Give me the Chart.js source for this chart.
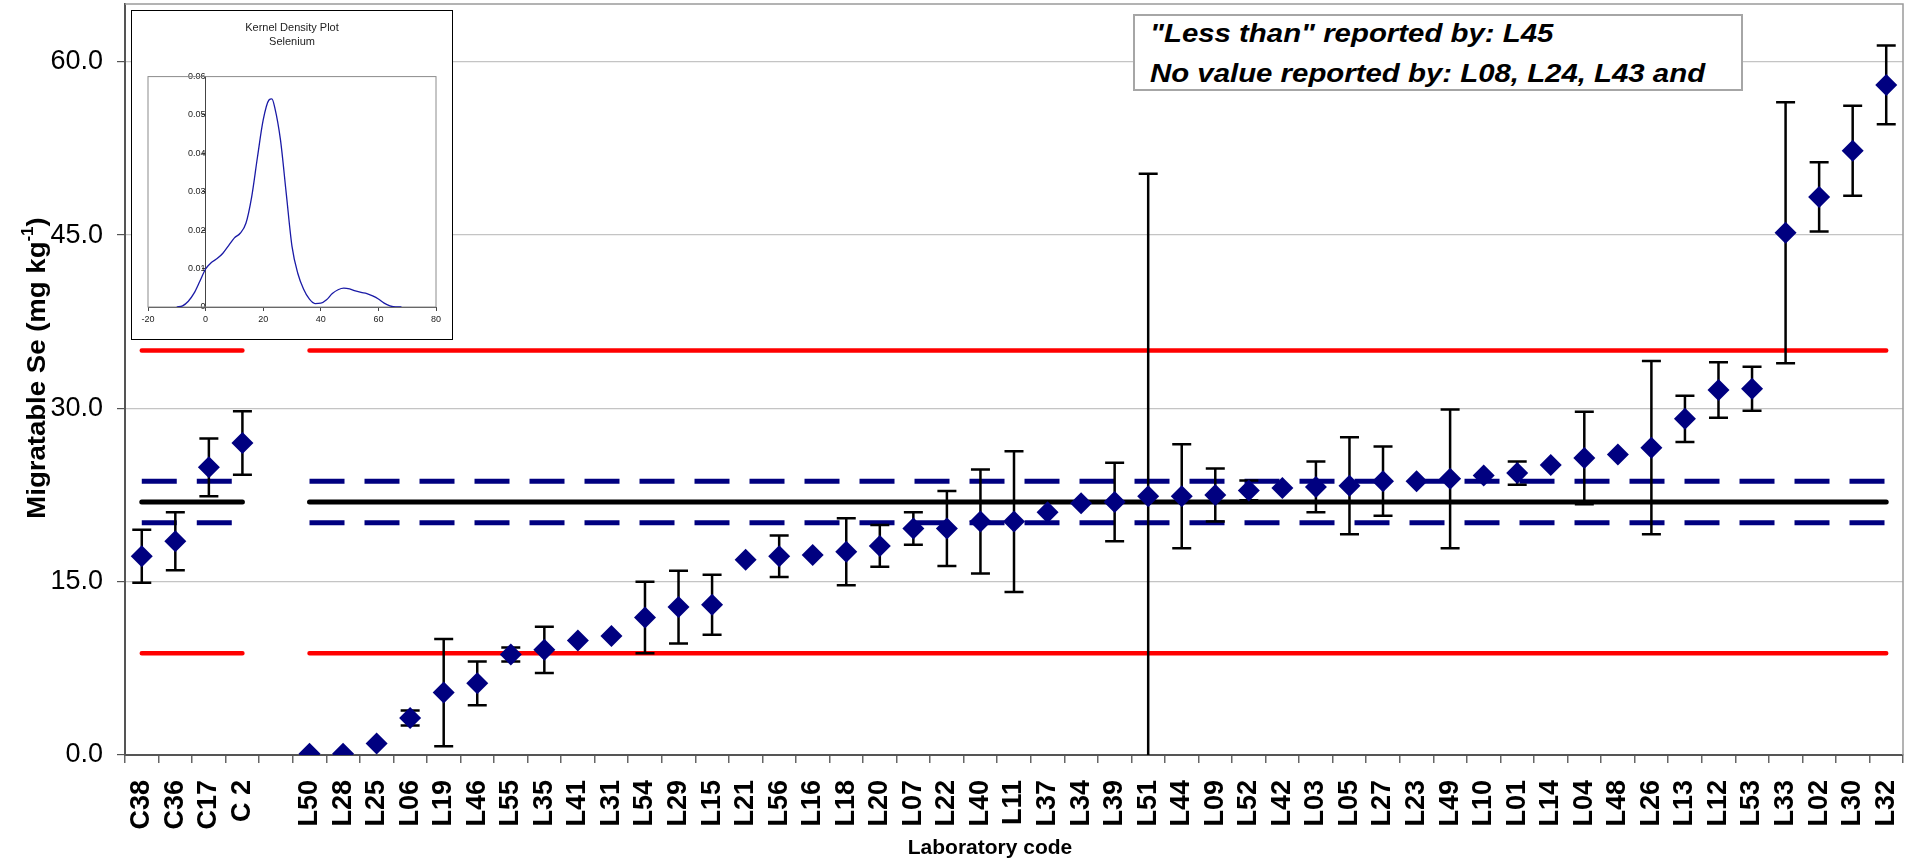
<!DOCTYPE html>
<html>
<head>
<meta charset="utf-8">
<title>Migratable Se by laboratory</title>
<script src="https://cdn.jsdelivr.net/npm/chart.js@4.4.1/dist/chart.umd.min.js"></script>
<style>
  html, body { margin: 0; padding: 0; background: #fff; }
  #wrap { position: relative; width: 1910px; height: 866px; overflow: hidden; }
  #main-holder { position: absolute; left: 0; top: 0; width: 1910px; height: 866px; }
  #kde-box { position: absolute; left: 131px; top: 10px; width: 320px; height: 328px;
             border: 1.5px solid #000; background: #fff; }
  #note { position: absolute; left: 1133px; top: 14px; width: 606px; height: 73px;
          border: 2px solid #a6a6a6; background: #fff; overflow: hidden; }
  #note div { position: absolute; left: 15px; font: italic bold 26px "Liberation Sans", Arial, sans-serif;
              line-height: 40px; white-space: nowrap; transform: scaleX(1.13); transform-origin: left; }
</style>
</head>
<body>
<div id="wrap">
  <div id="main-holder"><canvas id="main"></canvas></div>
  <div id="kde-box"><canvas id="kde"></canvas></div>
  <div id="note">
    <div style="top:-3px">"Less than" reported by: L45</div>
    <div style="top:37px">No value reported by: L08, L24, L43 and</div>
  </div>
</div>
<script>
const FONT = '"Liberation Sans", Arial, sans-serif';

// laboratory codes, '' is the empty slot between the C and L groups
const labCodes = ['C38', 'C36', 'C17', 'C 2', '',
  'L50', 'L28', 'L25', 'L06', 'L19', 'L46', 'L55', 'L35', 'L41', 'L31',
  'L54', 'L29', 'L15', 'L21', 'L56', 'L16', 'L18', 'L20', 'L07', 'L22',
  'L40', 'L11', 'L37', 'L34', 'L39', 'L51', 'L44', 'L09', 'L52', 'L42',
  'L03', 'L05', 'L27', 'L23', 'L49', 'L10', 'L01', 'L14', 'L04', 'L48',
  'L26', 'L13', 'L12', 'L53', 'L33', 'L02', 'L30', 'L32'];

// reported results (mg/kg)
const results = [17.2, 18.5, 24.9, 27.0, null,
  0.1, 0.1, 1.0, 3.2, 5.4, 6.2, 8.7, 9.1, 9.9, 10.3,
  11.9, 12.8, 13.0, 16.9, 17.2, 17.3, 17.6, 18.1, 19.6, 19.6,
  20.2, 20.2, 21.0, 21.8, 21.9, 22.4, 22.4, 22.5, 22.9, 23.1,
  23.2, 23.3, 23.7, 23.7, 23.9, 24.2, 24.4, 25.1, 25.7, 26.0,
  26.6, 29.1, 31.6, 31.7, 45.2, 48.3, 52.3, 58.0];

// expanded uncertainties (0 = none given)
const uncert = [2.3, 2.5, 2.5, 2.75, null,
  0, 0, 0, 0.65, 4.65, 1.9, 0.6, 2.0, 0, 0,
  3.1, 3.15, 2.6, 0, 1.8, 0, 2.9, 1.8, 1.4, 3.25,
  4.5, 6.1, 0, 0, 3.4, 27.9, 4.5, 2.3, 0.85, 0,
  2.2, 4.2, 3.0, 0, 6.0, 0, 1.0, 0, 4.0, 0,
  7.5, 2.0, 2.4, 1.9, 11.3, 3.0, 3.9, 3.4];

const ASSIGNED = 21.9;    // reference value
const U_HIGH = 23.7;      // reference value + U
const U_LOW = 20.1;       // reference value - U
const LIMIT_HIGH = 35.0;  // target range
const LIMIT_LOW = 8.8;

// kernel density inset
const kdeX = [-10, -8, -6, -4, -2, 0, 2, 4, 6, 8, 10, 12, 14, 16, 18, 20, 22, 23, 24, 26,
  28, 30, 32, 34, 36, 38, 40, 42, 44, 46, 48, 50, 52, 54, 56, 58, 60, 62, 64, 66, 68];
const kdeY = [0, 0.0003, 0.0015, 0.0036, 0.0067, 0.0099, 0.0116, 0.0126, 0.014, 0.016,
  0.018, 0.0192, 0.0218, 0.0287, 0.039, 0.0487, 0.0539, 0.0542, 0.052, 0.0435,
  0.0296, 0.0158, 0.0088, 0.0047, 0.0021, 0.0009, 0.001, 0.0019, 0.0035, 0.0045,
  0.0049, 0.0047, 0.0042, 0.0038, 0.0035, 0.0029, 0.0021, 0.001, 0.0003, 0, 0];

const yTicks = [0, 15, 30, 45, 60];

function refLine(value) {
  return labCodes.map(c => c === '' ? null : value);
}

// error bars go under the diamonds but over the reference lines
const errorBars = {
  id: 'errorBars',
  beforeDatasetDraw(chart, args) {
    if (args.index !== 0) return;
    const { ctx, chartArea, scales } = chart;
    ctx.save();
    ctx.beginPath();
    ctx.rect(chartArea.left, chartArea.top, chartArea.width, chartArea.height);
    ctx.clip();
    ctx.strokeStyle = '#000';
    ctx.lineWidth = 2.5;
    results.forEach((v, i) => {
      const u = uncert[i];
      if (v === null || !u) return;
      const px = scales.x.getPixelForValue(i);
      const top = scales.y.getPixelForValue(v + u);
      const bot = scales.y.getPixelForValue(v - u);
      ctx.beginPath();
      ctx.moveTo(px, top); ctx.lineTo(px, bot);
      ctx.moveTo(px - 9.5, top); ctx.lineTo(px + 9.5, top);
      ctx.moveTo(px - 9.5, bot); ctx.lineTo(px + 9.5, bot);
      ctx.stroke();
    });
    ctx.restore();
  }
};

// gray top/right frame of the plot area and the two axis titles
const frameAndTitles = {
  id: 'frameAndTitles',
  beforeDatasetsDraw(chart) {
    const { ctx, chartArea: a } = chart;
    ctx.save();
    ctx.strokeStyle = '#9a9a9a';
    ctx.lineWidth = 1.5;
    ctx.beginPath();
    ctx.moveTo(a.left, a.top); ctx.lineTo(a.right, a.top); ctx.lineTo(a.right, a.bottom);
    ctx.stroke();
    ctx.restore();
  },
  afterDraw(chart) {
    const ctx = chart.ctx;
    ctx.save();
    ctx.fillStyle = '#000';
    ctx.font = 'bold 21px ' + FONT;
    ctx.textAlign = 'center';
    ctx.textBaseline = 'middle';
    ctx.fillText('Laboratory code', 990, 848);

    // y title with superscript
    ctx.translate(36, 368);
    ctx.rotate(-Math.PI / 2);
    ctx.scale(1.06, 1);
    const main = 'Migratable Se (mg kg';
    const big = 'bold 26px ' + FONT, small = 'bold 16px ' + FONT;
    ctx.font = big;
    const w1 = ctx.measureText(main).width;
    const w3 = ctx.measureText(')').width;
    ctx.font = small;
    const w2 = ctx.measureText('-1').width;
    let x = -(w1 + w2 + w3) / 2;
    ctx.textAlign = 'left';
    ctx.textBaseline = 'alphabetic';
    ctx.font = big;
    ctx.fillText(main, x, 9);
    ctx.font = small;
    ctx.fillText('-1', x + w1, -3);
    ctx.font = big;
    ctx.fillText(')', x + w1 + w2, 9);
    ctx.restore();
  }
};

const lineBase = { pointRadius: 0, fill: false, spanGaps: false };

new Chart(document.getElementById('main'), {
  type: 'line',
  data: {
    labels: labCodes,
    datasets: [
      { label: 'Results', data: results, showLine: false,
        pointStyle: 'rectRot', pointRadius: 11, pointHoverRadius: 11,
        pointBackgroundColor: '#000080', pointBorderColor: '#000080', pointBorderWidth: 0 },
      { ...lineBase, data: refLine(U_HIGH), borderColor: '#000080', borderWidth: 5, borderDash: [35, 20] },
      { ...lineBase, data: refLine(U_LOW), borderColor: '#000080', borderWidth: 5, borderDash: [35, 20] },
      { ...lineBase, data: refLine(ASSIGNED), borderColor: '#000', borderWidth: 5, borderCapStyle: 'round' },
      { ...lineBase, data: refLine(LIMIT_HIGH), borderColor: '#ff0000', borderWidth: 4.5, borderCapStyle: 'round' },
      { ...lineBase, data: refLine(LIMIT_LOW), borderColor: '#ff0000', borderWidth: 4.5, borderCapStyle: 'round' }
    ]
  },
  options: {
    responsive: true,
    maintainAspectRatio: false,
    animation: false,
    devicePixelRatio: 1,
    layout: { autoPadding: false, padding: { top: 4, right: 7, left: 0, bottom: 0 } },
    plugins: { legend: { display: false }, tooltip: { enabled: false } },
    scales: {
      x: {
        offset: true,
        grid: { offset: true, drawOnChartArea: false, tickLength: 8, tickColor: '#666', lineWidth: 1.5 },
        border: { color: '#555', width: 2 },
        ticks: { autoSkip: false, minRotation: 90, maxRotation: 90, padding: 17, color: '#000',
                 font: { family: FONT, size: 27, weight: 'bold' } },
        afterFit(s) { s.height = 111; s.paddingLeft = 0; s.paddingRight = 0; }
      },
      y: {
        min: 0, max: 65,
        afterBuildTicks(s) { s.ticks = yTicks.map(v => ({ value: v })); },
        ticks: { callback: v => v.toFixed(1), padding: 14, color: '#000',
                 font: { family: FONT, size: 27 } },
        grid: { color: '#c4c4c4', tickColor: '#555', tickLength: 8, lineWidth: 1.2 },
        border: { color: '#555', width: 2 },
        afterFit(s) { s.width = 125; s.paddingTop = 0; s.paddingBottom = 0; }
      }
    }
  },
  plugins: [errorBars, frameAndTitles]
});

// inset: kernel density plot
const insetFrame = {
  id: 'insetFrame',
  beforeDatasetsDraw(chart) {
    const { ctx, chartArea: a } = chart;
    ctx.save();
    ctx.strokeStyle = '#8c8c8c';
    ctx.lineWidth = 1;
    ctx.strokeRect(a.left, a.top, a.width, a.height);
    ctx.restore();
  }
};

new Chart(document.getElementById('kde'), {
  type: 'line',
  data: {
    datasets: [{
      data: kdeX.map((x, i) => ({ x: x, y: kdeY[i] })),
      borderColor: '#1a1aa6', borderWidth: 1.3, pointRadius: 0,
      cubicInterpolationMode: 'monotone', fill: false
    }]
  },
  options: {
    responsive: true,
    maintainAspectRatio: false,
    animation: false,
    devicePixelRatio: 1,
    layout: { padding: { left: 16, right: 16, top: 0, bottom: 0 } },
    plugins: {
      legend: { display: false },
      tooltip: { enabled: false },
      title: { display: true, text: ['Kernel Density Plot', 'Selenium'], color: '#222',
               font: { family: FONT, size: 11, weight: 'normal', lineHeight: 1.3 },
               padding: { top: 10, bottom: 27 } }
    },
    scales: {
      x: {
        type: 'linear', min: -20, max: 80,
        ticks: { stepSize: 20, color: '#222', padding: 3, font: { family: FONT, size: 9 } },
        grid: { drawOnChartArea: false, tickLength: 4, color: '#444' },
        border: { color: '#444', width: 1 },
        afterFit(s) { s.height = 32; }
      },
      y: {
        type: 'linear', min: 0, max: 0.06, position: { x: 0 },
        ticks: { stepSize: 0.01, color: '#222', padding: 2, font: { family: FONT, size: 9 } },
        grid: { drawOnChartArea: false, tickLength: 3, color: '#444' },
        border: { color: '#444', width: 1 }
      }
    }
  },
  plugins: [insetFrame]
});
</script>
</body>
</html>
